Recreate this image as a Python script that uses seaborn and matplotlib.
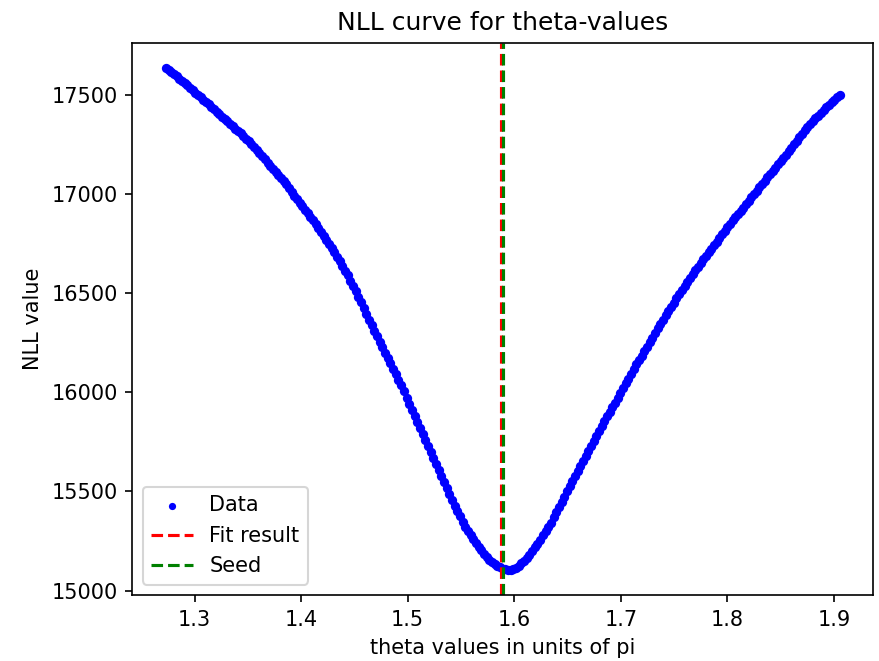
import numpy as np
import pandas as pd
import matplotlib
matplotlib.use("Agg")
import matplotlib.pyplot as plt
import seaborn as sns

theta_start = 1.2732
theta_end = 1.9052

nll_values = [
    17636, 17625, 17614, 17604, 17593, 17582, 17570, 17559,
    17547, 17535, 17523, 17511, 17499, 17487, 17475, 17463,
    17451, 17439, 17426, 17414, 17402, 17390, 17378, 17366,
    17354, 17342, 17329, 17317, 17305, 17292, 17279, 17266,
    17253, 17237, 17221, 17205, 17189, 17174, 17158, 17143,
    17128, 17113, 17097, 17082, 17067, 17048, 17029, 17011,
    16992, 16974, 16956, 16938, 16920, 16902, 16885, 16867,
    16850, 16830, 16809, 16789, 16769, 16748, 16726, 16705,
    16684, 16660, 16637, 16613, 16590, 16563, 16536, 16509,
    16482, 16453, 16424, 16395, 16366, 16338, 16310, 16283,
    16255, 16227, 16200, 16172, 16145, 16117, 16090, 16062,
    16035, 16004, 15973, 15943, 15912, 15882, 15851, 15821,
    15790, 15760, 15729, 15699, 15668, 15638, 15607, 15577,
    15546, 15516, 15487, 15457, 15428, 15401, 15375, 15348,
    15322, 15301, 15280, 15260, 15239, 15221, 15203, 15186,
    15168, 15156, 15145, 15135, 15125, 15117, 15111, 15107,
    15104, 15105, 15109, 15116, 15125, 15137, 15150, 15164,
    15179, 15198, 15218, 15237, 15256, 15278, 15299, 15321,
    15342, 15369, 15395, 15422, 15448, 15474, 15501, 15527,
    15553, 15579, 15604, 15630, 15655, 15680, 15705, 15730,
    15755, 15780, 15804, 15829, 15854, 15878, 15901, 15925,
    15948, 15972, 15997, 16021, 16045, 16069, 16093, 16116,
    16140, 16163, 16185, 16208, 16230, 16253, 16276, 16299,
    16322, 16344, 16366, 16388, 16410, 16431, 16452, 16473,
    16494, 16514, 16535, 16555, 16575, 16595, 16614, 16634,
    16653, 16671, 16689, 16706, 16724, 16742, 16760, 16778,
    16796, 16814, 16832, 16850, 16868, 16884, 16899, 16915,
    16930, 16948, 16965, 16983, 17000, 17017, 17033, 17050,
    17066, 17083, 17099, 17116, 17132, 17149, 17165, 17182,
    17198, 17216, 17233, 17251, 17268, 17286, 17303, 17321,
    17338, 17352, 17367, 17381, 17395, 17409, 17423, 17436,
    17450, 17462, 17475, 17487, 17499,
]

fit_result = 1.5880
seed_value = 1.5892

title = "NLL curve for theta-values"
x_label = "theta values in units of pi"
y_label = "NLL value"
legend_labels = ["Data", "Fit result", "Seed"]

theta = np.linspace(theta_start, theta_end, len(nll_values))
df = pd.DataFrame({"theta": theta, "nll": nll_values})

fig = plt.figure(figsize=(880 / 150, 661 / 150), dpi=150)
ax = fig.add_axes([0.1503, 0.0998, 0.8420, 0.8356])

sns.scatterplot(data=df, x="theta", y="nll", ax=ax, color="blue",
                s=20, linewidth=0, label=legend_labels[0])
ax.axvline(fit_result, color="red", linestyle="--", linewidth=1.5,
           label=legend_labels[1])
ax.axvline(seed_value, color="green", linestyle="--", linewidth=1.5,
           label=legend_labels[2])

ax.set_title(title, fontsize=12)
ax.set_xlabel(x_label, fontsize=10)
ax.set_ylabel(y_label, fontsize=10)
ax.tick_params(labelsize=10)
leg = ax.legend(loc="lower left", fontsize=10)
for h in leg.legend_handles[:1]:
    h.set_sizes([12])

fig.savefig("out.png", dpi=150)
